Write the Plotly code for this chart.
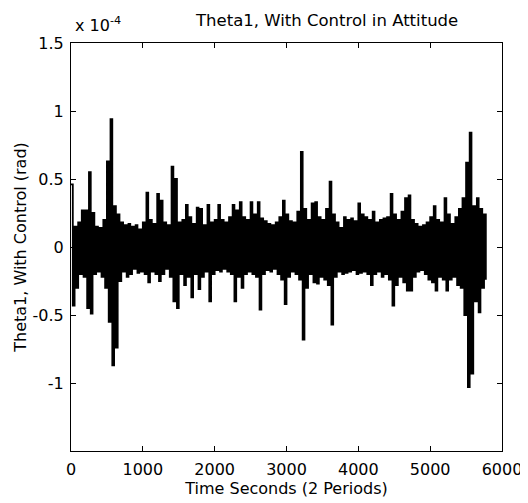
import numpy as np
import plotly.graph_objects as go

# Theta1 with control, units of 1e-4 rad, sampled every 25 s (peak / trough pairs)
dt = 25.0
peaks = [
    0.46, 0.15, 0.18, 0.27, 0.27, 0.55, 0.25, 0.15, 0.14, 0.20,
    0.63, 0.94, 0.30, 0.24, 0.18, 0.16, 0.17, 0.15, 0.16, 0.13,
    0.18, 0.40, 0.20, 0.17, 0.39, 0.34, 0.18, 0.16, 0.59, 0.50,
    0.18, 0.20, 0.31, 0.22, 0.17, 0.29, 0.28, 0.16, 0.31, 0.18,
    0.20, 0.31, 0.20, 0.18, 0.22, 0.31, 0.27, 0.33, 0.22, 0.20,
    0.33, 0.24, 0.33, 0.21, 0.19, 0.17, 0.16, 0.18, 0.22, 0.34,
    0.24, 0.19, 0.18, 0.26, 0.70, 0.28, 0.20, 0.32, 0.33, 0.22,
    0.20, 0.28, 0.48, 0.24, 0.18, 0.14, 0.22, 0.20, 0.21, 0.19,
    0.32, 0.24, 0.22, 0.20, 0.26, 0.18, 0.20, 0.21, 0.22, 0.39,
    0.24, 0.20, 0.26, 0.36, 0.38, 0.20, 0.17, 0.15, 0.16, 0.18,
    0.22, 0.30, 0.20, 0.18, 0.36, 0.24, 0.17, 0.22, 0.28, 0.36,
    0.62, 0.84, 0.30, 0.36, 0.28, 0.24,
]
troughs = [
    -0.43, -0.30, -0.20, -0.22, -0.45, -0.49, -0.20, -0.18, -0.22, -0.30,
    -0.55, -0.87, -0.74, -0.25, -0.18, -0.22, -0.20, -0.16, -0.19, -0.18,
    -0.20, -0.26, -0.18, -0.20, -0.25, -0.20, -0.16, -0.22, -0.40, -0.45,
    -0.20, -0.28, -0.22, -0.37, -0.20, -0.31, -0.22, -0.18, -0.40, -0.20,
    -0.17, -0.18, -0.16, -0.18, -0.20, -0.40, -0.22, -0.30, -0.20, -0.18,
    -0.20, -0.22, -0.46, -0.20, -0.17, -0.18, -0.16, -0.20, -0.24, -0.42,
    -0.22, -0.18, -0.20, -0.24, -0.68, -0.30, -0.20, -0.26, -0.27, -0.22,
    -0.24, -0.28, -0.57, -0.22, -0.18, -0.20, -0.19, -0.18, -0.17, -0.20,
    -0.19, -0.18, -0.20, -0.28, -0.20, -0.18, -0.22, -0.20, -0.24, -0.43,
    -0.28, -0.22, -0.26, -0.32, -0.32, -0.22, -0.18, -0.17, -0.20, -0.24,
    -0.26, -0.32, -0.22, -0.24, -0.32, -0.24, -0.22, -0.28, -0.30, -0.50,
    -1.03, -0.93, -0.40, -0.48, -0.30, -0.24,
]

y = np.empty(2 * len(peaks))
y[0::2] = peaks
y[1::2] = troughs
t = np.arange(len(y)) * dt

ytick_vals = [-1, -0.5, 0, 0.5, 1, 1.5]
ytick_text = ["-1", "-0.5", "0", "0.5", "1", "1.5"]

font = "DejaVu Sans, Arial, sans-serif"

fig = go.Figure()
fig.add_trace(
    go.Scatter(x=t, y=y, mode="lines", line_shape="hv",
               line=dict(color="black", width=1.8))
)

axis_style = dict(
    showline=True,
    linecolor="black",
    linewidth=1,
    mirror="ticks",
    ticks="inside",
    ticklen=5,
    tickcolor="black",
    showgrid=False,
    zeroline=False,
    automargin=False,
    tickfont=dict(size=16, color="black"),
)

fig.update_xaxes(
    range=[0, 6000],
    tickvals=[0, 1000, 2000, 3000, 4000, 5000, 6000],
    ticklabelstandoff=4,
    title=dict(text="Time Seconds (2 Periods)", font=dict(size=16, color="black"), standoff=3),
    **axis_style,
)
fig.update_yaxes(
    range=[-1.5, 1.5],
    tickvals=ytick_vals,
    ticktext=ytick_text,
    ticklabelstandoff=3,
    title=dict(text="Theta1, With Control (rad)", font=dict(size=16, color="black"), standoff=1),
    **axis_style,
)

fig.add_annotation(
    text="Theta1, With Control in Attitude",
    xref="paper", yref="paper", x=0.592, y=1.0, yshift=11,
    xanchor="center", yanchor="bottom", showarrow=False,
    font=dict(size=16.5, color="black"),
)
fig.add_annotation(
    text="x 10<sup>-4</sup>",
    xref="paper", yref="paper", x=0.0, y=1.0, yshift=6, xshift=2,
    xanchor="left", yanchor="bottom", showarrow=False,
    font=dict(size=16, color="black"),
)

# page body keeps its default 8 px margin, so the figure is 8 px smaller
fig.update_layout(
    width=520,
    height=495,
    margin=dict(l=63, r=26, t=35, b=52),
    plot_bgcolor="white",
    paper_bgcolor="white",
    font=dict(family=font, color="black"),
    showlegend=False,
)

fig.write_html("out.html")
